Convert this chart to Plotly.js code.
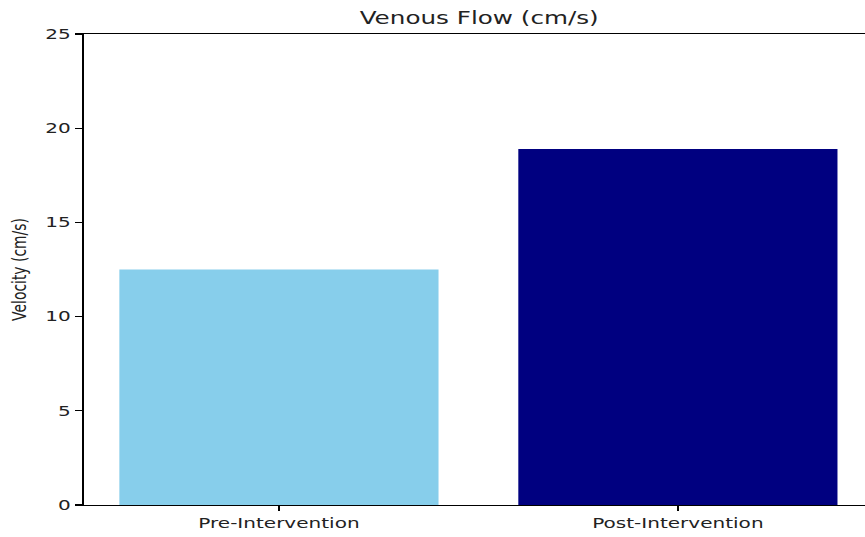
<!DOCTYPE html>
<html>
<head>
<meta charset="utf-8">
<script src="https://cdn.plot.ly/plotly-3.0.1.min.js"></script>
<style>
  html, body { margin: 0; padding: 0; background: #fff; overflow: hidden; }
  #wrap { width: 865px; height: 537px; overflow: hidden; }
  #chart { width: 600px; height: 537px; transform: scaleX(1.44167); transform-origin: 0 0; }
</style>
</head>
<body>
<div id="wrap"><div id="chart"></div></div>
<script>
const categories = ["Pre-Intervention", "Post-Intervention"];
const velocities = [12.5, 18.9];
const barColors = ["#87CEEB", "#000080"];
const yTicks = [0, 5, 10, 15, 20, 25];
const chartTitle = "Venous Flow (cm/s)";
const yLabel = "Velocity (cm/s)";

const font = "DejaVu Sans, sans-serif";
const trace = {
  type: "bar",
  x: categories,
  y: velocities,
  width: 0.8,
  marker: { color: barColors, line: { width: 0 } },
  hoverinfo: "x+y"
};

const layout = {
  width: 600,
  height: 537,
  margin: { l: 57.6, r: 0, t: 34, b: 32, pad: 0 },
  paper_bgcolor: "#fff",
  plot_bgcolor: "#fff",
  showlegend: false,
  font: { family: font, color: "#222", size: 13.9 },
  title: {
    text: chartTitle,
    font: { family: font, size: 17.1, color: "#222" },
    xref: "container", x: 0.554, xanchor: "center",
    yref: "container", y: 1 - 24 / 537, yanchor: "bottom"
  },
  xaxis: {
    type: "category",
    range: [-0.4896, 1.469],
    showline: true, linecolor: "#000", linewidth: 1.1, mirror: true,
    showgrid: false, zeroline: false,
    ticks: "outside", ticklen: 5, tickwidth: 1, tickcolor: "#000",
    tickfont: { family: font, size: 13.9, color: "#222" },
    automargin: false
  },
  yaxis: {
    range: [0, 25],
    tickvals: yTicks,
    showline: true, linecolor: "#000", linewidth: 1.1, mirror: false,
    showgrid: false, zeroline: false,
    ticks: "outside", ticklen: 5, tickwidth: 1.1, tickcolor: "#000",
    tickfont: { family: font, size: 13.9, color: "#222" },
    title: { text: yLabel, font: { family: font, size: 13.9, color: "#222" }, standoff: 9 },
    automargin: false
  }
};

Plotly.newPlot("chart", [trace], layout, { displayModeBar: false, staticPlot: true });
</script>
</body>
</html>
